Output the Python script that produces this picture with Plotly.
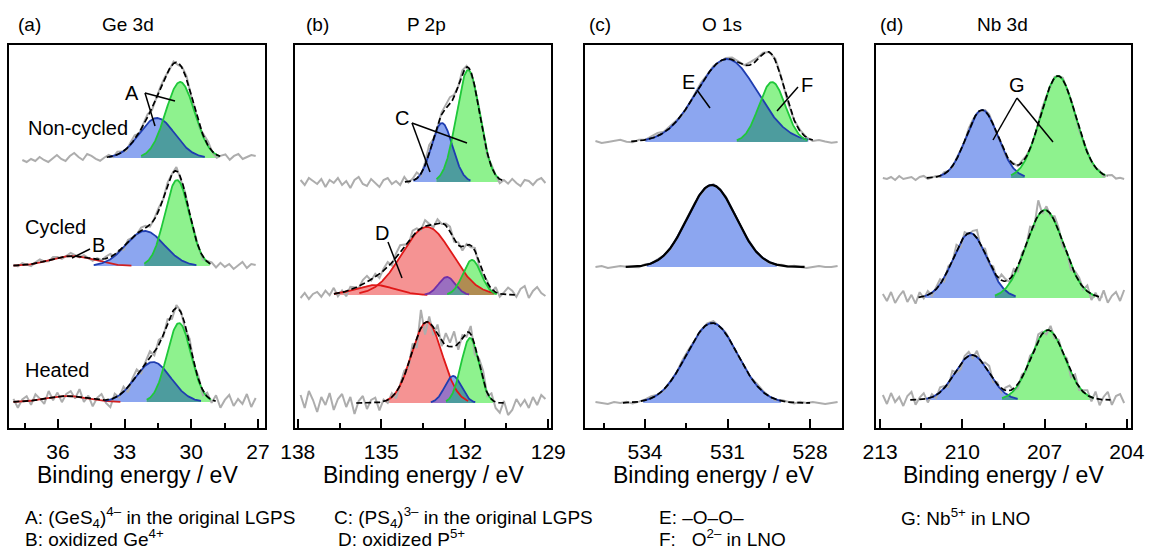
import numpy as np
import plotly.graph_objects as go

W, H = 1149, 549

# ------------------------------------------------------------------ data
panel_tags = ["(a)", "(b)", "(c)", "(d)"]
panel_titles = ["Ge 3d", "P 2p", "O 1s", "Nb 3d"]

ticks_a = [37.5, 36, 34.5, 33, 31.5, 30, 28.5, 27]
ticks_b = [138, 136.5, 135, 133.5, 132, 130.5, 129]
ticks_c = [535.5, 534, 532.5, 531, 529.5, 528]
ticks_d = [213, 211.5, 210, 208.5, 207, 205.5, 204]
labels_a = ["36", "33", "30", "27"]
labels_b = ["138", "135", "132", "129"]
labels_c = ["534", "531", "528"]
labels_d = ["213", "210", "207", "204"]

# --- Ge 3d
ge_nc_base = 270
ge_nc_center = [31.54, 30.50]
ge_nc_height = [40, 76]
ge_nc_sigma = [0.80, 0.65]
ge_nc_kind = ["blue", "green"]
ge_nc_fit = [33.8, 28.7]
ge_nc_raw = [37.6, 27.1]
ge_nc_noise = [-2, -4, -1, -3, 1, -2, -4, 0, 3, -1, -3, 2, 5, 1, -2, 4, 2, -1, -3, 0, 2, -1, 3, 1, -2, 2, 4,
               -1, 1, 3, -2, 0, 2, 1, -1, 2, -2, 1, 3, -1, 0, -3, 2, 4, -1, -3, 1, 3, -2, 2, 4, -1, 1, 3, 2]

ge_cy_base = 162
ge_cy_center = [35.37, 32.08, 30.64]
ge_cy_height = [10, 35, 86]
ge_cy_sigma = [1.0, 0.86, 0.55]
ge_cy_kind = ["redline", "blue", "green"]
ge_cy_fit = [38.0, 29.1]
ge_cy_raw = [38.0, 27.1]
ge_cy_noise = [1, -1, 2, 0, -2, 1, 3, 0, -1, 2, 1, -2, 0, 3, 1, -1, 2, 0, -2, 1, -1, 2, 3, -2, 1, -3, 2, 0,
               -1, 3, 2, -2, 1, 3, -1, 2, 0, 4, -2, 1, -1, 2, 0, -3, 1, 2, -2, 3, -1, 2, -3, 1, 4, -2, 2, 1]

ge_ht_base = 26
ge_ht_center = [35.6, 31.72, 30.55]
ge_ht_height = [6, 40, 79]
ge_ht_sigma = [0.9, 0.80, 0.54]
ge_ht_kind = ["redline", "blue", "green"]
ge_ht_fit = [38.0, 28.9]
ge_ht_raw = [38.0, 27.1]
ge_ht_noise = [3, -6, 2, 5, -4, 6, 1, -5, 7, -3, 4, -6, 2, 5, -2, 8, -4, 3, -7, 2, 6, -3, -8, 4, -2, 5, -5, 3,
               6, -4, 2, 7, -3, 5, -2, 4, -6, 3, 1, -4, 5, -2, 3, -5, 4, -3, 6, -6, 2, 7, -4, 3, -2, 8, -5, 4]

# --- P 2p
p_top_base = 246
p_top_center = [132.82, 131.88]
p_top_height = [59, 112]
p_top_sigma = [0.38, 0.42]
p_top_kind = ["blue", "green"]
p_top_fit = [134.15, 130.55]
p_top_raw = [137.9, 129.1]
p_top_noise = [2, -3, 4, 1, -2, 3, -5, 2, -1, 4, -3, 1, -6, 2, 5, -2, -4, 3, -1, -5, 2, 4, -2, 1, -3, 5, -1,
               2, 6, -2, 3, 8, -1, -3, 2, 4, 7, 2, -1, 3, 1, -2, -1, 2, 1, -3, 2, 0, -4, 1, -2, 3, -1, -4, 2,
               1, -3, 2, 4, -1]

p_cy_base = 133
p_cy_center = [135.23, 133.36, 132.64, 131.74]
p_cy_height = [10, 68, 18, 35]
p_cy_sigma = [0.70, 0.90, 0.30, 0.33]
p_cy_kind = ["red", "red", "purple", "green"]
p_cy_fit = [136.7, 130.2]
p_cy_raw = [137.9, 129.1]
p_cy_noise = [-3, 2, -4, 1, 3, -2, 4, -1, 6, -3, 2, -5, 3, 1, -2, 4, 6, -1, 3, -4, 2, 5, -3, 4, 7, 2, -4, 5,
              3, -2, 6, 1, -3, 4, -1, 2, 5, -2, 3, -4, 1, -2, 3, -5, -3, 2, -4, 5, -3, 2, 7, 4, -2, 6, 9, -3,
              4, 8, 2, -1]

p_ht_base = 25
p_ht_center = [133.36, 132.42, 131.81]
p_ht_height = [81, 27, 65]
p_ht_sigma = [0.55, 0.30, 0.32]
p_ht_kind = ["red", "blue", "green"]
p_ht_fit = [135.9, 130.6]
p_ht_raw = [137.9, 129.1]
p_ht_noise = [8, -5, 12, 3, -9, 6, -2, 10, -7, 4, 9, -4, 6, -11, 2, 7, -6, 3, 5, -8, 2, -3, 4, -6, 1, 5, -4,
              7, -10, 18, -12, 6, -8, 10, -5, 12, 4, 15, -6, 3, -4, 8, -9, 5, 10, -3, 6, -6, -10, 2, -12, -7,
              4, -3, 3, -5, 6, -2, 8, 4]

# --- O 1s
o_top_base = 286
o_top_center = [531.02, 529.38]
o_top_height = [83, 60]
o_top_sigma = [1.10, 0.48]
o_top_kind = ["blue", "green"]
o_top_fit = [534.5, 527.9]
o_top_raw = [535.8, 527.0]
o_top_noise = [1, -1, 0, 1, 2, 0, -1, 1, 0, 2, 3, 1, 2, 1, -1, 0, 1, 2, 0, 1, -1, 1, 2, 1, 0, 3, 2, 1, 0, 2,
               1, -1, 0, 1, 0, -1, 1, 0, -1, 0]

o_mid_base = 161
o_mid_center = [531.57]
o_mid_height = [82]
o_mid_sigma = [0.88]
o_mid_kind = ["blue"]
o_mid_fit = [534.7, 528.2]
o_mid_raw = [535.8, 527.0]
o_mid_noise = [0, 1, -1, 0, 1, 0, 0, -1, 1, 0, 1, 0, -1, 0, 1, 1, 0, -1, 0, 1, 0, 1, 0, -1, 0, 1, 0, 0, -1,
               0, 1, 0, 1, 0, -1, 0, 1, 0, 0, 1]

o_bot_base = 25
o_bot_center = [531.56]
o_bot_height = [80]
o_bot_sigma = [0.93]
o_bot_kind = ["blue"]
o_bot_fit = [534.8, 528.0]
o_bot_raw = [535.8, 527.0]
o_bot_noise = [1, 0, -1, 1, 0, 1, -1, 0, 1, 2, 0, -1, 1, 0, 2, 1, -1, 0, 1, 2, 0, 1, -1, 0, 1, 0, 2, 1, 0, -1,
               1, 0, -1, 1, 0, 1, 0, -1, 0, 1]

# --- Nb 3d
nb_top_base = 250
nb_top_center = [209.28, 206.51]
nb_top_height = [68, 102]
nb_top_sigma = [0.58, 0.64]
nb_top_kind = ["blue", "green"]
nb_top_fit = [211.3, 204.7]
nb_top_raw = [212.9, 204.1]
nb_top_noise = [0, -1, 1, -2, 2, -1, 0, 1, -2, 1, 2, -1, 0, 1, -1, 2, 0, -1, 1, 0, -1, 2, 1, 0, -1, 1, 2, 0,
                -1, 1, -2, 0, 1, -1, 2, 1, 0, -1, 1, 2, 0, -1, 1, 0, 2, -1, 1, 0, -2, 1, 2, -1, 0, 1, -2, 1,
                2, -1, 0, -1]

nb_mid_base = 130
nb_mid_center = [209.72, 206.99]
nb_mid_height = [65, 88]
nb_mid_sigma = [0.62, 0.68]
nb_mid_kind = ["blue", "green"]
nb_mid_fit = [211.6, 204.9]
nb_mid_raw = [212.9, 204.1]
nb_mid_noise = [4, -3, 6, -5, 2, 7, -4, 3, -6, 5, -2, 4, -3, 2, 5, -4, 3, -2, 6, -5, 4, -1, 3, 8, -3, 5, -2,
                4, -4, 6, 2, -3, 5, -5, 3, -2, 7, -4, 15, -3, 4, -2, 5, 3, -4, 2, -5, 3, 4, -2, 6, -6, 3, -4,
                7, -5, 2, 6, -3, 8]

nb_bot_base = 28
nb_bot_center = [209.65, 206.88]
nb_bot_height = [45, 70]
nb_bot_sigma = [0.62, 0.62]
nb_bot_kind = ["blue", "green"]
nb_bot_fit = [211.9, 204.6]
nb_bot_raw = [212.9, 204.1]
nb_bot_noise = [5, -4, 7, -2, 3, -6, 4, 8, -5, 2, 6, -4, 3, -3, 5, 2, -4, 6, -2, -5, 3, 4, -3, 6, -2, 4, 7,
                -3, 2, -4, 3, 5, -2, -4, 3, -2, 4, -3, 6, 2, -4, 5, -3, 3, -2, 4, -5, 6, -3, 2, 5, -4, 7, -6,
                3, 8, -5, 4, 6, -3]

sample_labels = ["Non-cycled", "Cycled", "Heated"]

footer_row1 = ["A: (GeS<sub>4</sub>)<sup>4–</sup> in the original LGPS",
               "C: (PS<sub>4</sub>)<sup>3–</sup> in the original LGPS",
               "E: –O–O–",
               "G: Nb<sup>5+</sup> in LNO"]
footer_row2 = ["B: oxidized Ge<sup>4+</sup>",
               "D: oxidized P<sup>5+</sup>",
               "F:   O<sup>2–</sup> in LNO"]

# ------------------------------------------------------------------ styles / layout
FONT = "Liberation Sans, Arial, sans-serif"
frames = [(9, 265), (295, 551), (585, 842), (876, 1131)]
FTOP, FBOT = 45, 428
xranges = [[38.2, 26.68], [138.1, 128.9], [536.18, 526.84], [213.15, 203.85]]
YMAX = FBOT - FTOP

fill_col = {"blue": "#8ca6f0", "green": "#8ef28e", "red": "#f59393", "purple": "#8ca6f0"}
line_col = {"blue": "#1f3db0", "green": "#1fc83a", "red": "#e01818", "purple": "#7030a8",
            "redline": "#d02020"}
mix_col = {("blue", "green"): "#4d9c9e", ("blue", "red"): "#9a74c4", ("green", "red"): "#b08c52",
           ("purple", "red"): "#9a6fc0", ("green", "purple"): "#5f9c9a", ("red", "red"): "#f59393"}


def gauss(x, c, h, s):
    return h * np.exp(-0.5 * ((x - c) / s) ** 2)


spectra = [
    (0, ge_nc_base, ge_nc_center, ge_nc_height, ge_nc_sigma, ge_nc_kind, ge_nc_fit, ge_nc_raw, ge_nc_noise, "dash"),
    (0, ge_cy_base, ge_cy_center, ge_cy_height, ge_cy_sigma, ge_cy_kind, ge_cy_fit, ge_cy_raw, ge_cy_noise, "dash"),
    (0, ge_ht_base, ge_ht_center, ge_ht_height, ge_ht_sigma, ge_ht_kind, ge_ht_fit, ge_ht_raw, ge_ht_noise, "dash"),
    (1, p_top_base, p_top_center, p_top_height, p_top_sigma, p_top_kind, p_top_fit, p_top_raw, p_top_noise, "dash"),
    (1, p_cy_base, p_cy_center, p_cy_height, p_cy_sigma, p_cy_kind, p_cy_fit, p_cy_raw, p_cy_noise, "dash"),
    (1, p_ht_base, p_ht_center, p_ht_height, p_ht_sigma, p_ht_kind, p_ht_fit, p_ht_raw, p_ht_noise, "dash"),
    (2, o_top_base, o_top_center, o_top_height, o_top_sigma, o_top_kind, o_top_fit, o_top_raw, o_top_noise, "dash"),
    (2, o_mid_base, o_mid_center, o_mid_height, o_mid_sigma, o_mid_kind, o_mid_fit, o_mid_raw, o_mid_noise, "solid"),
    (2, o_bot_base, o_bot_center, o_bot_height, o_bot_sigma, o_bot_kind, o_bot_fit, o_bot_raw, o_bot_noise, "dash"),
    (3, nb_top_base, nb_top_center, nb_top_height, nb_top_sigma, nb_top_kind, nb_top_fit, nb_top_raw, nb_top_noise, "dash"),
    (3, nb_mid_base, nb_mid_center, nb_mid_height, nb_mid_sigma, nb_mid_kind, nb_mid_fit, nb_mid_raw, nb_mid_noise, "dash"),
    (3, nb_bot_base, nb_bot_center, nb_bot_height, nb_bot_sigma, nb_bot_kind, nb_bot_fit, nb_bot_raw, nb_bot_noise, "dash"),
]

fig = go.Figure()


def axn(i):
    return ("x" if i == 0 else f"x{i+1}"), ("y" if i == 0 else f"y{i+1}")


for (pi, base, cen, hei, sig, kind, fit, raw, noise, edash) in spectra:
    xa, ya = axn(pi)
    xf = np.linspace(fit[0], fit[1], 400)
    comps = []
    for c, h, s, k in zip(cen, hei, sig, kind):
        lo, hi = c - 2.7 * s, c + 2.7 * s
        mask = (xf >= lo) & (xf <= hi)
        comps.append((gauss(xf, c, h, s), mask, k))
    # fills
    for g, m, k in comps:
        if k not in fill_col:
            continue
        xs = xf[m]
        ys = base + g[m]
        fig.add_trace(go.Scatter(x=np.concatenate([xs, xs[::-1]]),
                                 y=np.concatenate([ys, np.full(len(xs), base)]),
                                 fill="toself", fillcolor=fill_col[k], mode="none",
                                 xaxis=xa, yaxis=ya, hoverinfo="skip"))
    # overlaps
    for i in range(len(comps)):
        for j in range(i + 1, len(comps)):
            gi, mi, ki = comps[i]
            gj, mj, kj = comps[j]
            if ki not in fill_col or kj not in fill_col:
                continue
            m = mi & mj
            if m.sum() < 2:
                continue
            ov = np.minimum(gi[m], gj[m])
            if ov.max() < 1:
                continue
            key = tuple(sorted((ki, kj)))
            xs = xf[m]
            fig.add_trace(go.Scatter(x=np.concatenate([xs, xs[::-1]]),
                                     y=np.concatenate([base + ov, np.full(len(xs), base)]),
                                     fill="toself", fillcolor=mix_col.get(key, "#888888"), mode="none",
                                     xaxis=xa, yaxis=ya, hoverinfo="skip"))
    # raw data
    xr = np.linspace(raw[0], raw[1], len(noise))
    yr = base + np.array(noise, dtype=float)
    for c, h, s in zip(cen, hei, sig):
        yr = yr + gauss(xr, c, h, s)
    fig.add_trace(go.Scatter(x=xr, y=yr, mode="lines", line=dict(color="#adadad", width=2),
                             xaxis=xa, yaxis=ya, hoverinfo="skip"))
    # component lines
    for g, m, k in comps:
        fig.add_trace(go.Scatter(x=xf[m], y=base + g[m], mode="lines",
                                 line=dict(color=line_col[k], width=1.8),
                                 xaxis=xa, yaxis=ya, hoverinfo="skip"))
    # envelope
    env = base + sum(g for g, m, k in comps)
    fig.add_trace(go.Scatter(x=xf, y=env, mode="lines",
                             line=dict(color="black", width=1.7 if edash == "dash" else 2.2,
                                       dash="6px,3px" if edash == "dash" else "solid"),
                             xaxis=xa, yaxis=ya, hoverinfo="skip"))

all_ticks = [ticks_a, ticks_b, ticks_c, ticks_d]
all_labels = [labels_a, labels_b, labels_c, labels_d]

layout = dict(width=W, height=H, margin=dict(l=0, r=0, t=0, b=0, autoexpand=False),
              paper_bgcolor="white", plot_bgcolor="white", showlegend=False,
              font=dict(family=FONT, color="black"))
for i in range(4):
    l, r = frames[i]
    major = [float(v) for v in all_labels[i]]
    minor = [v for v in all_ticks[i] if v not in major]
    xk = "xaxis" if i == 0 else f"xaxis{i+1}"
    yk = "yaxis" if i == 0 else f"yaxis{i+1}"
    layout[xk] = dict(domain=[l / W, r / W], range=xranges[i], anchor=axn(i)[1],
                      automargin=False,
                      showline=True, mirror=True, linecolor="black", linewidth=2,
                      showgrid=False, zeroline=False,
                      ticks="inside", ticklen=9, tickwidth=1.5, tickcolor="black",
                      tickmode="array", tickvals=major, ticktext=all_labels[i],
                      tickfont=dict(family=FONT, size=21, color="black"),
                      ticklabelstandoff=4,
                      minor=dict(ticks="inside", ticklen=5, tickwidth=1.5, tickcolor="black",
                                 tickmode="array", tickvals=minor, showgrid=False),
                      fixedrange=True)
    layout[yk] = dict(domain=[1 - FBOT / H, 1 - FTOP / H], range=[0, YMAX], anchor=axn(i)[0],
                      automargin=False,
                      showline=True, mirror=True, linecolor="black", linewidth=2,
                      showgrid=False, zeroline=False, showticklabels=False, ticks="",
                      fixedrange=True)
fig.update_layout(**layout)


def P(x, y):
    return x / W, 1 - y / H


annots = []


def txt(x, y, s, size=19, xanchor="center"):
    px, py = P(x, y)
    annots.append(dict(x=px, y=py, xref="paper", yref="paper", text=s, showarrow=False,
                       xanchor=xanchor, yanchor="middle",
                       font=dict(family=FONT, size=size, color="black")))


tag_x = [29, 317, 600, 891]
title_x = [128, 426, 722, 1002]
for i in range(4):
    txt(tag_x[i], 24, panel_tags[i], 19)
    txt(title_x[i], 24, panel_titles[i], 19)
    l, r = frames[i]
    txt((l + r) / 2, 475, "Binding energy / eV", 23)

txt(78, 128, sample_labels[0], 20)
txt(55, 227, sample_labels[1], 20)
txt(57, 370, sample_labels[2], 20)

txt(132, 93, "A", 20)
txt(98, 245, "B", 20)
txt(402, 118, "C", 20)
txt(382, 233, "D", 20)
txt(688, 82, "E", 20)
txt(807, 85, "F", 20)
txt(1017, 85, "G", 20)

foot1_x = [23, 332, 657, 899]
foot2_x = [23, 336, 657]
for x, s in zip(foot1_x, footer_row1):
    txt(x, 517, s, 19, "left")
for x, s in zip(foot2_x, footer_row2):
    txt(x, 538, s, 19, "left")

shapes = []
pointer_lines = [((145, 93), (155, 126)), ((145, 93), (175, 101)),
                 ((90, 249), (72, 258)),
                 ((412, 123), (430, 172)), ((412, 123), (467, 143)),
                 ((388, 242), (402, 278)),
                 ((697, 90), (710, 108)),
                 ((798, 87), (777, 111)),
                 ((1017, 98), (993, 140)), ((1017, 98), (1053, 142))]
for (a, b) in pointer_lines:
    x0, y0 = P(*a)
    x1, y1 = P(*b)
    shapes.append(dict(type="line", xref="paper", yref="paper", x0=x0, y0=y0, x1=x1, y1=y1,
                       line=dict(color="black", width=1.5)))

fig.update_layout(annotations=annots, shapes=shapes)
fig.write_html("out.html", config={"displayModeBar": False},
               post_script="document.body.style.margin='0';document.body.style.overflow='hidden';")
